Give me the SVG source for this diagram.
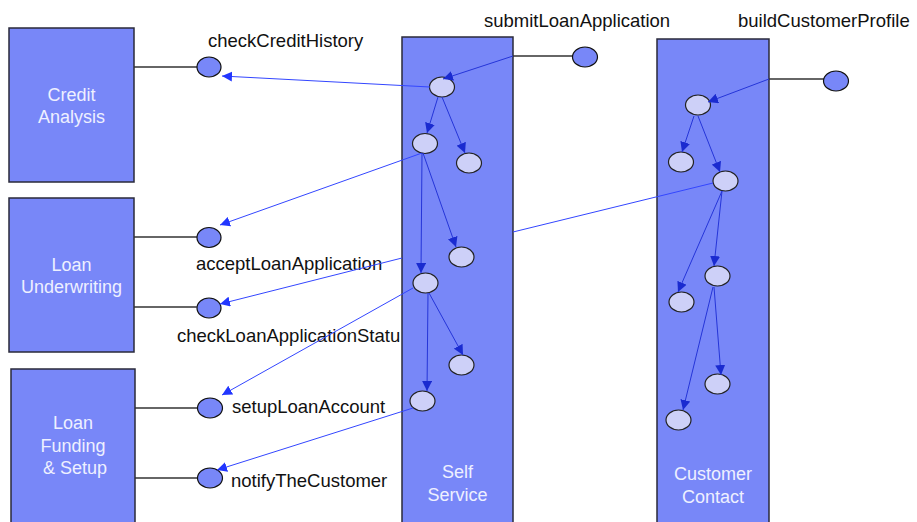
<svg xmlns="http://www.w3.org/2000/svg" width="917" height="522" viewBox="0 0 917 522">
<style>
.box{fill:#7887f8;stroke:#2a2a3a;stroke-width:1.5}
.port{fill:#7887f8;stroke:#111;stroke-width:1.2}
.act{fill:#cdd0f8;stroke:#222;stroke-width:1.2}
.blab{font-family:"Liberation Sans",Arial,sans-serif;font-size:18px;fill:#eef0ff;text-anchor:middle}
.lab{font-family:"Liberation Sans",Arial,sans-serif;font-size:18.5px;fill:#111}
.tie{stroke:#333;stroke-width:1.3;fill:none}
.e{stroke:#2535d8;stroke-width:1;fill:none;marker-end:url(#ah)}
.x{stroke:#3346ff;stroke-width:1;fill:none;marker-end:url(#ah2)}
</style>
<defs>
<marker id="ah" markerUnits="userSpaceOnUse" markerWidth="12" markerHeight="10" refX="10" refY="5" orient="auto"><path d="M0,0 L10,5 L0,10 z" fill="#1a2bd0"/></marker>
<marker id="ah2" markerUnits="userSpaceOnUse" markerWidth="12" markerHeight="10" refX="10" refY="5" orient="auto"><path d="M0,0 L10,5 L0,10 z" fill="#2236ff"/></marker>
</defs>
<rect width="917" height="522" fill="#fff"/>

<g id="credit-analysis"><rect class="box" x="9" y="28" width="125" height="154"/><text class="blab" x="71.5" y="101">Credit</text><text class="blab" x="71.5" y="123">Analysis</text></g>
<g id="loan-underwriting"><rect class="box" x="9" y="198" width="125" height="154"/><text class="blab" x="71.5" y="271">Loan</text><text class="blab" x="71.5" y="293">Underwriting</text></g>
<g id="loan-funding"><rect class="box" x="11" y="369" width="124" height="160"/><text class="blab" x="73" y="429">Loan</text><text class="blab" x="73" y="452">Funding</text><text class="blab" x="75" y="474">&amp; Setup</text></g>

<g id="checkLoanApplicationStatus"><ellipse class="port" cx="209" cy="308" rx="12" ry="10"/><text class="lab" x="177" y="342">checkLoanApplicationStatu</text></g>

<g id="self-service"><rect class="box" x="402" y="37" width="111" height="492"/><text class="blab" x="457.5" y="478">Self</text><text class="blab" x="457.5" y="501">Service</text></g>
<g id="customer-contact"><rect class="box" x="657" y="39" width="112" height="490"/><text class="blab" x="713" y="480">Customer</text><text class="blab" x="713" y="503">Contact</text></g>

<g id="ties">
<path class="tie" d="M134,67 H197"/>
<path class="tie" d="M134,237 H197"/>
<path class="tie" d="M134,307 H197"/>
<path class="tie" d="M135,408 H198"/>
<path class="tie" d="M135,478 H198"/>
<path class="tie" d="M513,56 H573"/>
<path class="tie" d="M769,79 H824"/>
</g>

<g id="checkCreditHistory"><ellipse class="port" cx="209" cy="67" rx="12" ry="10"/><text class="lab" x="208" y="47">checkCreditHistory</text></g>
<g id="acceptLoanApplication"><ellipse class="port" cx="209" cy="237.5" rx="12" ry="10"/><text class="lab" x="196" y="270">acceptLoanApplication</text></g>
<g id="setupLoanAccount"><ellipse class="port" cx="210" cy="408" rx="12.5" ry="10"/><text class="lab" x="232" y="413">setupLoanAccount</text></g>
<g id="notifyTheCustomer"><ellipse class="port" cx="210" cy="478" rx="12.5" ry="10"/><text class="lab" x="231" y="487">notifyTheCustomer</text></g>
<g id="submitLoanApplication"><ellipse class="port" cx="585" cy="57" rx="12.5" ry="10"/><text class="lab" x="484" y="27">submitLoanApplication</text></g>
<g id="buildCustomerProfile"><ellipse class="port" cx="836" cy="81" rx="12.5" ry="10"/><text class="lab" x="738" y="27">buildCustomerProfile</text></g>

<g id="ss-a"><ellipse class="act" cx="442" cy="87" rx="12.5" ry="10"/></g>
<g id="ss-b"><ellipse class="act" cx="425" cy="143.5" rx="12.5" ry="10"/></g>
<g id="ss-c"><ellipse class="act" cx="469" cy="163" rx="12.5" ry="10"/></g>
<g id="ss-d"><ellipse class="act" cx="461.5" cy="257" rx="12.5" ry="10"/></g>
<g id="ss-e"><ellipse class="act" cx="425.5" cy="283" rx="12.5" ry="10"/></g>
<g id="ss-f"><ellipse class="act" cx="461.5" cy="365" rx="12.5" ry="10"/></g>
<g id="ss-g"><ellipse class="act" cx="422.5" cy="401" rx="12.5" ry="10"/></g>

<g id="cc-h"><ellipse class="act" cx="698" cy="105" rx="12.5" ry="10"/></g>
<g id="cc-i"><ellipse class="act" cx="681" cy="162" rx="12.5" ry="10"/></g>
<g id="cc-j"><ellipse class="act" cx="725.5" cy="181" rx="12.5" ry="10"/></g>
<g id="cc-k"><ellipse class="act" cx="717.5" cy="276" rx="12.5" ry="10"/></g>
<g id="cc-l"><ellipse class="act" cx="681.5" cy="302" rx="12.5" ry="10"/></g>
<g id="cc-m"><ellipse class="act" cx="717.5" cy="384" rx="12.5" ry="10"/></g>
<g id="cc-n"><ellipse class="act" cx="678.5" cy="420" rx="12.5" ry="10"/></g>

<g id="connectors">
<path class="e" d="M513,56 L443,79"/>
<path class="e" d="M438,97 L427,133"/>
<path class="e" d="M442,97 L465,153"/>
<path class="x" d="M430,87 L222,76"/>
<path class="x" d="M422,153 L220,225"/>
<path class="e" d="M422,153 L421,273"/>
<path class="e" d="M423,153 L456,247"/>
<path class="x" d="M402,258 L220,304"/>
<path class="x" d="M413,288 L222,395"/>
<path class="e" d="M428,293 L427,391"/>
<path class="e" d="M429,293 L463,355"/>
<path class="x" d="M413,408 L217,470"/>
<path class="x" style="marker-end:none" d="M513,232 L713,183"/>
<path class="e" d="M769,79 L708,102"/>
<path class="e" d="M694,116 L682,152"/>
<path class="e" d="M698,116 L720,172"/>
<path class="e" d="M722,191 L678,292"/>
<path class="e" d="M722,191 L714,266"/>
<path class="e" d="M713,287 L683,410"/>
<path class="e" d="M714,287 L721,375"/>
</g>
</svg>
